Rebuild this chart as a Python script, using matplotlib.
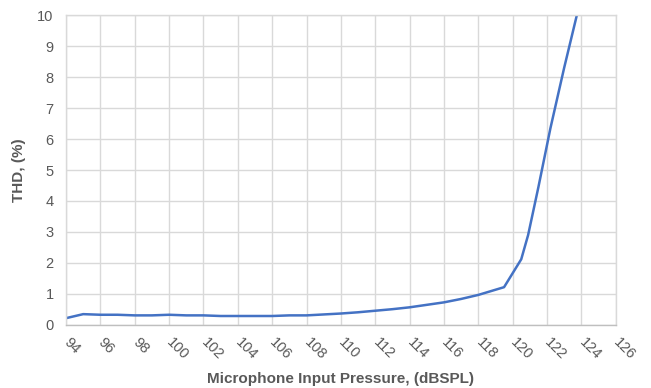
import matplotlib
matplotlib.use('Agg')
import matplotlib.pyplot as plt

# THD vs microphone input pressure
spl = [94, 95, 96, 97, 98, 99, 100, 101, 102, 103, 104, 105, 106, 107, 108,
       109, 110, 111, 112, 113, 114, 115, 116, 117, 118, 119.5, 120.5, 120.9,
       121.5, 122.2, 123.0, 124.0]
thd = [0.22, 0.35, 0.33, 0.33, 0.31, 0.31, 0.33, 0.31, 0.31, 0.29, 0.29, 0.29,
       0.29, 0.31, 0.31, 0.34, 0.37, 0.41, 0.46, 0.51, 0.57, 0.65, 0.73, 0.84,
       0.97, 1.22, 2.12, 2.9, 4.45, 6.35, 8.3, 10.6]

x_ticks = list(range(94, 127, 2))
y_ticks = list(range(0, 11))

plt.rcParams['font.family'] = ['Liberation Sans', 'DejaVu Sans']
grey_text = '#595959'
grid_col = '#d9d9d9'

fig = plt.figure(figsize=(6.51, 3.88), dpi=100)
ax = fig.add_axes([0.1014, 0.1624, 0.8444, 0.7989])

ax.plot(spl, thd, color='#4472C4', lw=1.8, solid_joinstyle='round', clip_on=True)

ax.set_xlim(94, 126)
ax.set_ylim(0, 10)
ax.set_xticks(x_ticks)
ax.set_yticks(y_ticks)
ax.grid(True, color=grid_col, lw=1.0)
ax.set_axisbelow(True)

for side in ['top', 'left', 'right']:
    ax.spines[side].set_color(grid_col)
    ax.spines[side].set_linewidth(1.0)
ax.spines['bottom'].set_color('#bfbfbf')
ax.spines['bottom'].set_linewidth(1.0)

ax.tick_params(axis='both', length=0, labelsize=10.5, labelcolor=grey_text)
ax.tick_params(axis='y', pad=9)
ax.tick_params(axis='x', pad=11)
for lbl in ax.get_xticklabels():
    lbl.set_rotation(-45)
    lbl.set_ha('left')
    lbl.set_va('center')
    lbl.set_rotation_mode('anchor')

ax.set_xlabel('Microphone Input Pressure, (dBSPL)', fontsize=11,
              fontweight='bold', color=grey_text, labelpad=7)
ax.set_ylabel('THD, (%)', fontsize=11, fontweight='bold', color=grey_text,
              labelpad=8)

fig.savefig('out.png', dpi=100, facecolor='white')
